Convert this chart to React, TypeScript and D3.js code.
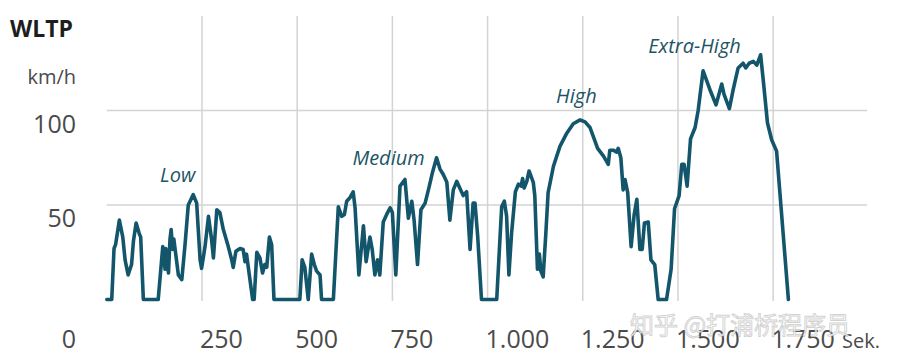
import React from "react";
import * as d3 from "d3";

const timeSec: number[] = [
  0, 13, 19, 23, 33, 42, 48, 56, 65, 70, 77, 85, 89, 96, 135, 147, 153, 155, 162, 166, 169, 173, 176, 188, 197, 205, 214, 227, 236, 245, 249, 258, 267, 275, 280, 289, 297, 306, 319, 328, 332, 339, 350, 358, 363, 367, 376, 383, 387, 394, 402, 409, 415, 420, 427, 433, 439, 499,
  507, 513, 520, 529, 538, 545, 551, 560, 564, 595, 608, 617, 624, 630, 639, 647, 652, 662, 674, 681, 691, 697, 704, 711, 717, 726, 735, 744, 750, 759, 770, 783, 792, 801, 807, 816, 825, 836, 847, 855, 866, 875, 884, 893, 901, 910, 919, 927, 936, 945, 954, 962, 967, 974, 984, 1024,
  1037, 1044, 1050, 1056, 1063, 1073, 1081, 1088, 1092, 1096, 1103, 1109, 1120, 1124, 1131, 1136, 1140, 1146, 1153, 1159, 1173, 1190, 1208, 1225, 1243, 1256, 1269, 1278, 1289, 1304, 1317, 1321, 1330, 1339, 1343, 1350, 1356, 1361, 1368, 1377, 1385, 1392, 1400, 1406, 1412, 1422, 1429, 1439, 1448, 1470,
  1482, 1491, 1503, 1510, 1516, 1524, 1533, 1545, 1553, 1566, 1584, 1600, 1615, 1621, 1635, 1645, 1658, 1671, 1678, 1687, 1698, 1707, 1717, 1724, 1735, 1746, 1759, 1790,
];

const speedKmh: number[] = [
  0, 0, 27, 29, 42, 33, 21, 13, 18.5, 31, 40.5, 35, 33, 0, 0, 28, 16, 27, 14, 32, 37, 26.5, 32, 13, 10.5, 28, 50, 55.5, 51, 21, 16.5, 28, 44, 32, 22, 47.5, 46, 37, 28, 21, 17, 25.5, 27, 26.5, 20, 24, 10.5, 0, 0, 25, 22, 14, 18.5, 17, 33, 29, 0, 0,
  0, 21, 17, 0, 24, 18.5, 15, 13, 0, 0, 49, 44, 45, 52, 54, 57, 48.5, 13, 39, 20, 33, 26.5, 13, 21, 13, 41, 45, 48.5, 46, 13, 60, 63.5, 43, 52, 42, 18.5, 47.5, 51, 60, 67, 75, 69, 66, 62, 42, 58, 62.5, 59, 55, 57, 26.5, 51, 51, 33.5, 0, 0,
  49, 52, 44, 13, 35, 57, 61, 60, 64, 59, 62.5, 68, 62, 55, 16, 24, 15, 12, 35, 56.5, 70.5, 81, 88, 93, 95, 94, 91, 86, 80, 76, 71.5, 79, 79, 78, 80, 75, 58, 63.5, 56.5, 28, 45, 53, 26.5, 26.5, 40.5, 41, 21, 18.5, 0, 0,
  16, 48, 55, 71.5, 71.5, 60, 85, 91, 100, 121, 111, 103, 114, 108.5, 101, 111, 122.5, 125, 122.5, 125, 126, 124, 129.5, 116, 93.5, 84.5, 78.5, 0,
];

const xTicks: number[] = [250, 500, 750, 1000, 1250, 1500, 1750];
const xTickLabels: string[] = ["250", "500", "750", "1.000", "1.250", "1.500", "1.750"];
const yTicks: number[] = [50, 100];
const yTickLabels: string[] = ["50", "100"];

const phaseNames: string[] = ["Low", "Medium", "High", "Extra-High"];
const phaseLabelTime: number[] = [140, 645, 1180, 1422];
const phaseLabelSpeed: number[] = [62, 71, 104, 130.5];

const W = 897;
const H = 363;
const FONT = "'Open Sans', 'Noto Sans', sans-serif";
const LINE = "#13566b";
const GRID = "#d3d3d3";
const TEXT = "#4a4a4a";

export default function App() {
  const x = d3.scaleLinear().domain([0, 1800]).range([106.8, 792.2]);
  const y = d3.scaleLinear().domain([0, 100]).range([299.5, 110.5]);

  const pts: [number, number][] = timeSec.map((t, i) => [t, speedKmh[i]]);
  const path = d3
    .line<[number, number]>()
    .x((d) => x(d[0]))
    .y((d) => y(d[1]))
    .curve(d3.curveLinear)(pts) as string;

  const gridRight = 867;
  const gridTop = 16;
  const gridBottom = 301;

  return (
    <svg
      width={W}
      height={H}
      style={{ position: "absolute", left: 0, top: 0, background: "#fff" }}
      fontFamily={FONT}
    >
      <rect width={W} height={H} fill="#fff" />
      {xTicks.map((t) => (
        <line
          key={"vx" + t}
          x1={x(t)}
          x2={x(t)}
          y1={gridTop}
          y2={gridBottom}
          stroke={GRID}
          strokeWidth={1.5}
        />
      ))}
      {yTicks.map((v) => (
        <line
          key={"hy" + v}
          x1={x(0)}
          x2={gridRight}
          y1={y(v)}
          y2={y(v)}
          stroke={GRID}
          strokeWidth={1.5}
        />
      ))}

      <text x={10} y={37} fontSize={23} fontWeight={700} fill="#1e1e1e">
        WLTP
      </text>
      <text x={76} y={84} fontSize={20} fill={TEXT} textAnchor="end">
        km/h
      </text>

      {yTicks.map((v, i) => (
        <text
          key={"yl" + v}
          x={76}
          y={y(v) + 22}
          fontSize={25}
          fill={TEXT}
          textAnchor="end"
        >
          {yTickLabels[i]}
        </text>
      ))}
      <text x={76} y={348} fontSize={25} fill={TEXT} textAnchor="end">
        0
      </text>

      {xTicks.map((t, i) => (
        <text key={"xl" + t} x={x(t) - 2} y={348} fontSize={25} fill={TEXT}>
          {xTickLabels[i]}
        </text>
      ))}
      <text x={842} y={348} fontSize={20} fill={TEXT}>
        Sek.
      </text>

      {phaseNames.map((n, i) => (
        <text
          key={n}
          x={x(phaseLabelTime[i])}
          y={y(phaseLabelSpeed[i])}
          fontSize={20}
          fontStyle="italic"
          fill="#1d5466"
        >
          {n}
        </text>
      ))}

      <path
        d={path}
        fill="none"
        stroke={LINE}
        strokeWidth={3.6}
        strokeLinejoin="round"
        strokeLinecap="round"
      />

      <text
        x={630}
        y={334}
        fontSize={24}
        fontFamily="'Noto Sans CJK SC', sans-serif"
        fill="#ffffff"
        fillOpacity={0.85}
        stroke="#9a9a9a"
        strokeOpacity={0.45}
        strokeWidth={1}
      >
        知乎 @打浦桥程序员
      </text>
    </svg>
  );
}
